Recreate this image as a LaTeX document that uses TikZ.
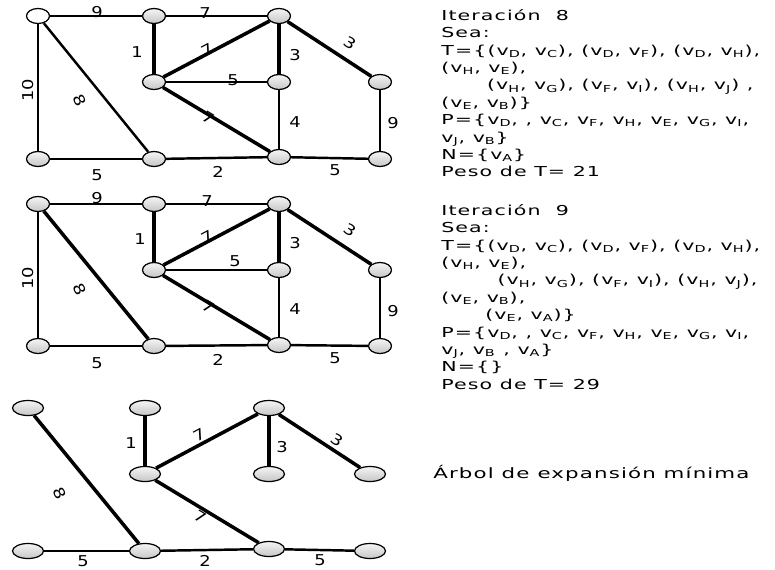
\documentclass[tikz,border=0pt]{standalone}
\usepackage{fontspec}
\setmainfont{DejaVu Sans}[FakeStretch=1.5,LetterSpace=8]
\newfontfamily\wtfont{DejaVu Sans}[FakeStretch=1.2]
\usetikzlibrary{shapes.geometric}
\newcommand{\vs}[1]{v\textsubscript{#1}}
\tikzset{
  vtx/.style={ellipse,draw,line width=0.7pt,top color=gray!8,bottom color=gray!45,
    minimum width=0.46cm,minimum height=0.3cm,inner sep=0pt},
  leaf/.style={vtx,minimum width=0.62cm},
  lite/.style={line width=0.85pt},
  mid/.style={line width=1.4pt},
  bold/.style={line width=2pt},
  heavy/.style={line width=2.8pt},
  wt/.style={font=\wtfont\fontsize{8.5}{9}\selectfont,inner sep=0pt},
  block/.style={anchor=north west,align=left,inner sep=0pt,
    font=\fontsize{7.8}{9.9}\selectfont},
}
\begin{document}
\begin{tikzpicture}[x=0.02cm,y=-0.02cm]
    \useasboundingbox (0,0) rectangle (775,569);

    % Iteracion 8
    \draw[lite] (38,16)--(154,16);
    \node[vtx,top color=white,bottom color=white] (a1) at (38,16) {};
    \node[vtx] (c1) at (154,16) {};
    \node[vtx] (f1) at (279,16) {};
    \node[vtx] (d1) at (154,82) {};
    \node[vtx] (g1) at (279,82) {};
    \node[vtx] (i1) at (380,82) {};
    \node[vtx] (b1) at (38,159) {};
    \node[vtx] (e1) at (154,159) {};
    \node[vtx] (h1) at (279,157) {};
    \node[vtx] (j1) at (380,159) {};

    \draw[lite] (c1)--(f1);
    \draw[heavy] (c1)--(d1);
    \draw[bold] (d1)--(f1);
    \draw[heavy] (f1)--(g1);
    \draw[bold] (f1)--(i1);
    \draw[lite] (d1)--(g1);
    \draw[bold] (d1)--(h1);
    \draw[mid] (g1)--(h1);
    \draw[mid] (i1)--(j1);
    \draw[mid] (a1)--(b1);
    \draw[mid] (a1)--(e1);
    \draw[mid] (b1)--(e1);
    \draw[mid] (e1)--(h1);
    \draw[mid] (h1)--(j1);

    \node[wt] (w1a) at (97,12) {9};
    \node[wt] (w1b) at (205,13) {7};
    \node[wt] (w1c) at (137,52) {1};
    \node[wt,rotate=28] (w1d) at (207,50) {7};
    \node[wt] (w1e) at (233,80) {5};
    \node[wt] (w1f) at (295,55) {3};
    \node[wt,rotate=-33] (w1g) at (350,43) {3};
    \node[wt,rotate=90] (w1h) at (28,90) {10};
    \node[wt,rotate=-65] (w1i) at (80,100) {8};
    \node[wt,rotate=-31] (w1j) at (208,118) {7};
    \node[wt] (w1k) at (295,122) {4};
    \node[wt] (w1l) at (393,123) {9};
    \node[wt] (w1m) at (97,175) {5};
    \node[wt] (w1n) at (218,172) {2};
    \node[wt] (w1o) at (335,170) {5};

    \node[block] (t8) at (441,9) {Iteración\ \ 8\\
      Sea:\\
      T=\{(\vs{D}, \vs{C}), (\vs{D}, \vs{F}), (\vs{D}, \vs{H}),\\
      (\vs{H}, \vs{E}),\\
      \hspace*{26pt}(\vs{H}, \vs{G}), (\vs{F}, \vs{I}), (\vs{H}, \vs{J}) ,\\
      (\vs{E}, \vs{B})\}\\
      P=\{\vs{D}, , \vs{C}, \vs{F}, \vs{H}, \vs{E}, \vs{G}, \vs{I},\\
      \vs{J}, \vs{B}\}\\
      N=\{\vs{A}\}\\
      Peso de T= 21};

    % Iteracion 9
    \node[vtx] (a2) at (38,204) {};
    \node[vtx] (c2) at (154,204) {};
    \node[vtx] (f2) at (279,204) {};
    \node[vtx] (d2) at (154,270) {};
    \node[vtx] (g2) at (279,270) {};
    \node[vtx] (i2) at (380,270) {};
    \node[vtx] (b2) at (38,346) {};
    \node[vtx] (e2) at (154,346) {};
    \node[vtx] (h2) at (279,345) {};
    \node[vtx] (j2) at (380,346) {};

    \draw[lite] (a2)--(c2);
    \draw[lite] (c2)--(f2);
    \draw[heavy] (c2)--(d2);
    \draw[bold] (d2)--(f2);
    \draw[heavy] (f2)--(g2);
    \draw[bold] (f2)--(i2);
    \draw[lite] (d2)--(g2);
    \draw[bold] (d2)--(h2);
    \draw[mid] (g2)--(h2);
    \draw[mid] (i2)--(j2);
    \draw[mid] (a2)--(b2);
    \draw[bold] (a2)--(e2);
    \draw[mid] (b2)--(e2);
    \draw[mid] (e2)--(h2);
    \draw[mid] (h2)--(j2);

    \node[wt] (w2a) at (97,198) {9};
    \node[wt] (w2b) at (207,201) {7};
    \node[wt] (w2c) at (140,239) {1};
    \node[wt,rotate=28] (w2d) at (207,237) {7};
    \node[wt] (w2e) at (235,261) {5};
    \node[wt] (w2f) at (295,243) {3};
    \node[wt,rotate=-33] (w2g) at (350,230) {3};
    \node[wt,rotate=90] (w2h) at (28,278) {10};
    \node[wt,rotate=-65] (w2i) at (80,289) {8};
    \node[wt,rotate=-31] (w2j) at (208,307) {7};
    \node[wt] (w2k) at (295,309) {4};
    \node[wt] (w2l) at (393,311) {9};
    \node[wt] (w2m) at (97,363) {5};
    \node[wt] (w2n) at (218,360) {2};
    \node[wt] (w2o) at (335,358) {5};

    \node[block] (t9) at (441,204) {Iteración\ \ 9\\
      Sea:\\
      T=\{(\vs{D}, \vs{C}), (\vs{D}, \vs{F}), (\vs{D}, \vs{H}),\\
      (\vs{H}, \vs{E}),\\
      \hspace*{32pt}(\vs{H}, \vs{G}), (\vs{F}, \vs{I}), (\vs{H}, \vs{J}),\\
      (\vs{E}, \vs{B}),\\
      \hspace*{25pt}(\vs{E}, \vs{A})\}\\
      P=\{\vs{D}, , \vs{C}, \vs{F}, \vs{H}, \vs{E}, \vs{G}, \vs{I},\\
      \vs{J}, \vs{B} , \vs{A}\}\\
      N=\{\}\\
      Peso de T= 29};

    % arbol
    \node[leaf] (a3) at (28,408) {};
    \node[leaf] (c3) at (145,408) {};
    \node[leaf] (f3) at (269,408) {};
    \node[leaf] (d3) at (145,474) {};
    \node[leaf] (g3) at (269,474) {};
    \node[leaf] (i3) at (370,474) {};
    \node[leaf] (b3) at (28,551) {};
    \node[leaf] (e3) at (145,551) {};
    \node[leaf] (h3) at (269,549) {};
    \node[leaf] (j3) at (370,551) {};

    \draw[bold] (a3)--(e3);
    \draw[heavy] (c3)--(d3);
    \draw[bold] (d3)--(f3);
    \draw[heavy] (f3)--(g3);
    \draw[bold] (f3)--(i3);
    \draw[bold] (d3)--(h3);
    \draw[mid] (b3)--(e3);
    \draw[mid] (e3)--(h3);
    \draw[mid] (h3)--(j3);

    \node[wt,rotate=-65] (w3a) at (60,493) {8};
    \node[wt] (w3b) at (131,443) {1};
    \node[wt,rotate=28] (w3c) at (199,435) {7};
    \node[wt] (w3d) at (282,447) {3};
    \node[wt,rotate=-33] (w3e) at (337,440) {3};
    \node[wt,rotate=-31] (w3f) at (200,517) {7};
    \node[wt] (w3g) at (83,561) {5};
    \node[wt] (w3h) at (205,561) {2};
    \node[wt] (w3i) at (320,560) {5};

    \node[anchor=west,inner sep=0pt,font=\fontsize{8.1}{10}\selectfont] (arb) at (433,473)
      {Árbol de expansión mínima};
\end{tikzpicture}
\end{document}
